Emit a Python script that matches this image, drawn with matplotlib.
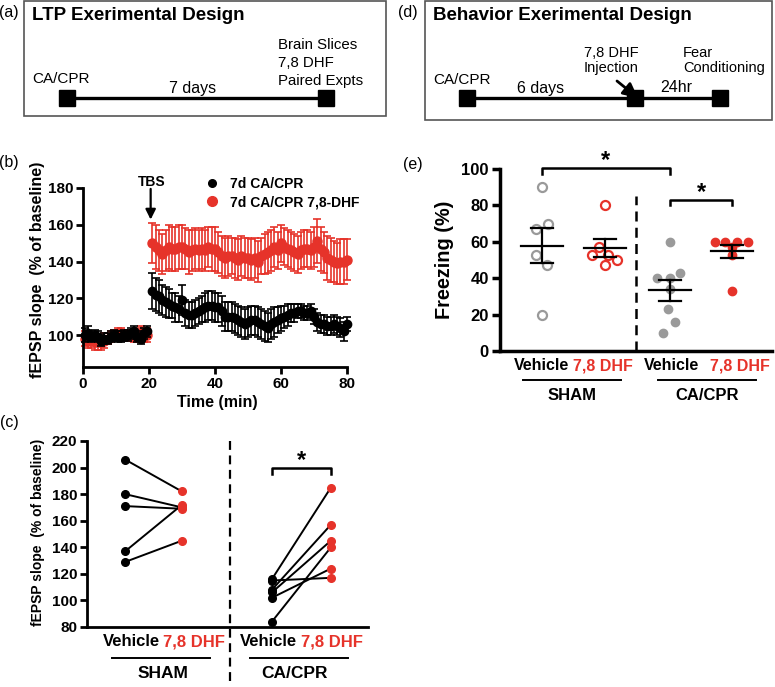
import numpy as np
import matplotlib
matplotlib.use('Agg')
import matplotlib.pyplot as plt
from matplotlib.patches import Rectangle
from matplotlib.lines import Line2D
from matplotlib.transforms import blended_transform_factory

plt.rcParams['font.family'] = ['Liberation Sans', 'DejaVu Sans']
plt.rcParams['font.weight'] = 'bold'

W, H = 775, 687
RED = '#E6332A'
GRAY = '#9a9a9a'

# ---------------- data ----------------
# Panel (b): time course
base_time = [t + 0.5 for t in range(20)]
base_ctrl = [100, 101, 99, 100, 99, 97, 98, 98, 99, 100, 99, 99, 100, 100, 101, 102, 99, 98, 101, 102]
base_ctrl_err = [4, 4, 3, 3, 3, 3, 3, 3, 3, 3, 3, 3, 3, 3, 3, 3, 3, 3, 3, 3]
base_dhf = [98, 97, 97, 96, 96, 96, 97, 98, 99, 100, 101, 101, 100, 100, 100, 99, 100, 101, 100, 100]
base_dhf_err = [4, 4, 4, 4, 4, 4, 4, 3, 3, 3, 3, 3, 3, 3, 3, 3, 4, 4, 4, 4]

post_time = list(range(21, 81))
post_ctrl = [124, 122, 121, 119, 118, 117, 116, 115, 114, 119,
             112, 111, 111, 112, 113, 114, 115, 116, 116, 115,
             115, 113, 110, 110, 110, 109, 108, 107, 106, 107,
             108, 108, 107, 106, 105, 104, 106, 107, 108, 109,
             110, 111, 112, 112, 113, 113, 112, 112, 113, 110,
             107, 106, 106, 105, 105, 106, 105, 104, 102, 106]
post_ctrl_err = [10, 9, 9, 8, 8, 8, 7, 8, 7, 8,
                 7, 7, 7, 7, 7, 7, 8, 8, 8, 8,
                 8, 8, 8, 8, 8, 8, 8, 8, 8, 8,
                 8, 8, 8, 8, 8, 8, 8, 8, 7, 7,
                 6, 6, 5, 5, 4, 4, 4, 4, 4, 4,
                 5, 5, 5, 5, 5, 5, 5, 5, 5, 4]
post_dhf = [150, 148, 146, 144, 146, 148, 147, 147, 148, 148,
            147, 145, 146, 147, 146, 147, 146, 148, 147, 147,
            145, 143, 142, 143, 143, 142, 141, 143, 142, 142,
            141, 142, 140, 143, 144, 145, 146, 148, 146, 150,
            148, 147, 146, 145, 144, 146, 147, 147, 146, 148,
            151, 147, 145, 142, 141, 140, 139, 140, 140, 141]
post_dhf_err = [11, 12, 11, 11, 11, 12, 12, 12, 12, 12,
                11, 12, 11, 11, 11, 11, 11, 11, 12, 12,
                11, 11, 11, 11, 10, 11, 11, 11, 11, 11,
                11, 11, 11, 10, 11, 11, 11, 11, 10, 10,
                10, 10, 10, 10, 10, 10, 10, 10, 10, 11,
                12, 12, 11, 12, 12, 11, 11, 12, 12, 11]
legend_labels = ['7d CA/CPR', '7d CA/CPR 7,8-DHF']

# Panel (c): paired LTP
cond_labels = ['Vehicle', '7,8 DHF', 'Vehicle', '7,8 DHF']
group_labels = ['SHAM', 'CA/CPR']
c_sham_vehicle = [206, 180, 171, 137, 129]
c_sham_dhf = [182, 170, 169, 172, 145]
c_cpr_vehicle = [116, 115, 108, 106, 102, 84]
c_cpr_dhf = [185, 117, 157, 145, 124, 140]

# Panel (e): freezing
e_sham_vehicle = [90, 70, 67, 53, 47, 20]
e_sham_dhf = [80, 57, 53, 53, 50, 47]
e_cpr_vehicle = [60, 43, 40, 40, 34, 23, 16, 10]
e_cpr_dhf = [60, 60, 60, 60, 57, 53, 33]

# ---------------- layout helpers ----------------
fig = plt.figure(figsize=(W / 100, H / 100), dpi=100)
ov = fig.add_axes([0, 0, 1, 1], zorder=5)
ov.set_xlim(0, W)
ov.set_ylim(H, 0)
ov.axis('off')
ov.patch.set_visible(False)


def rect(l, t, r, b):
    return [l / W, 1 - b / H, (r - l) / W, (b - t) / H]


def T(x, y, s, size=10, weight='normal', ha='center', va='center', color='black', **kw):
    ov.text(x, y, s, fontsize=size, fontweight=weight, ha=ha, va=va, color=color, **kw)


def style_axes(ax, lw=2, tl=5, ls=10):
    for s in ['top', 'right']:
        ax.spines[s].set_visible(False)
    for s in ['left', 'bottom']:
        ax.spines[s].set_linewidth(lw)
    ax.tick_params(width=lw, length=tl, labelsize=ls, pad=2)
    for lab in ax.get_xticklabels() + ax.get_yticklabels():
        lab.set_fontweight('bold')


# ---------------- panel labels ----------------
T(9, 13, '(a)', size=11.5)
T(408, 13, '(d)', size=11.5)
T(9, 162, '(b)', size=11.5)
T(9, 423, '(c)', size=11.5)
T(413, 165, '(e)', size=11.5)

# ---------------- (a) schematic ----------------
ov.add_patch(Rectangle((24, 1), 362, 115, fill=False, ec='#555555', lw=1.2))
T(32, 16, 'LTP Exerimental Design', size=13.5, weight='bold', ha='left')
ov.plot([67, 326], [98, 98], color='black', lw=2.4, solid_capstyle='butt')
ov.plot([67, 326], [98, 98], 's', color='black', ms=12, ls='none')
T(32, 79, 'CA/CPR', size=11, ha='left')
T(193, 88, '7 days', size=11.5)
T(278, 45, 'Brain Slices', size=10.8, ha='left')
T(278, 63, '7,8 DHF', size=10.8, ha='left')
T(278, 81, 'Paired Expts', size=10.8, ha='left')

# ---------------- (d) schematic ----------------
ov.add_patch(Rectangle((425, 1), 347, 119, fill=False, ec='#555555', lw=1.2))
T(433, 16, 'Behavior Exerimental Design', size=13.5, weight='bold', ha='left')
ov.plot([467, 720], [98, 98], color='black', lw=2.4, solid_capstyle='butt')
ov.plot([467, 635, 720], [98, 98, 98], 's', color='black', ms=12, ls='none')
T(433, 80, 'CA/CPR', size=11, ha='left')
T(541, 88, '6 days', size=11.5)
T(611, 53, '7,8 DHF', size=10.5)
T(611, 68, 'Injection', size=10.5)
T(676, 88, '24hr', size=11.5)
T(683, 53, 'Fear', size=10.5, ha='left')
T(683, 68, 'Conditioning', size=10.5, ha='left')
ov.annotate('', xy=(638, 98), xytext=(617, 81),
            arrowprops=dict(arrowstyle='-|>', color='black', lw=2.0, mutation_scale=22,
                            shrinkA=0, shrinkB=0))

# ---------------- (b) time course ----------------
axb = fig.add_axes(rect(83, 188, 347, 367))
axb.set_xlim(0, 80)
axb.set_ylim(82.6, 180)
axb.set_xticks([0, 20, 40, 60, 80])
axb.set_yticks([100, 120, 140, 160, 180])
style_axes(axb, lw=2, tl=5, ls=11)

series = [
    (base_time, base_dhf, base_dhf_err, RED, 6.5, 2),
    (post_time, post_dhf, post_dhf_err, RED, 6.5, 2),
    (base_time, base_ctrl, base_ctrl_err, 'black', 6, 3),
    (post_time, post_ctrl, post_ctrl_err, 'black', 6, 3),
]
for t, v, e, col, ms, z in series:
    cont = axb.errorbar(t, v, yerr=e, fmt='o', color=col, ms=ms, capsize=3,
                        elinewidth=1.2, capthick=1.2, zorder=z)
    for art in cont.get_children():
        art.set_clip_on(False)

axb.annotate('', xy=(20.5, 162.8), xytext=(20.5, 179.5), annotation_clip=False,
             arrowprops=dict(arrowstyle='-|>', color='black', lw=1.6, mutation_scale=15,
                             shrinkA=0, shrinkB=0))
T(152, 182, 'TBS', size=10, weight='bold')

handles = [Line2D([], [], marker='o', ls='none', color='black', ms=5.5),
           Line2D([], [], marker='o', ls='none', color=RED, ms=7)]
leg = axb.legend(handles, legend_labels, loc='upper left',
                 bbox_to_anchor=(205 / W, 1 - 177 / H), bbox_transform=fig.transFigure,
                 frameon=False, borderpad=0, borderaxespad=0, handlelength=1.0,
                 handletextpad=0.8, labelspacing=0.3,
                 prop={'size': 10, 'weight': 'bold'})

T(38, 270, 'fEPSP slope  (% of baseline)', size=11.5, weight='bold', rotation=90)
T(217, 403, 'Time (min)', size=11.5, weight='bold')

# ---------------- (c) paired LTP ----------------
axc = fig.add_axes(rect(87, 441, 368, 627))
axc.set_xlim(0, 5)
axc.set_ylim(80, 220)
axc.set_yticks(list(range(80, 221, 20)))
axc.set_xticks([])
style_axes(axc, lw=2, tl=5, ls=11)

c_x = [0.68, 1.69, 3.29, 4.34]
c_dash = 2.545
for (xa, xb, va_, vb_) in [(c_x[0], c_x[1], c_sham_vehicle, c_sham_dhf),
                           (c_x[2], c_x[3], c_cpr_vehicle, c_cpr_dhf)]:
    for a, b in zip(va_, vb_):
        axc.plot([xa, xb], [a, b], color='black', lw=1.4, zorder=2, clip_on=False)
    axc.plot([xa] * len(va_), va_, 'o', color='black', ms=5.5, zorder=3, clip_on=False)
    axc.plot([xb] * len(vb_), vb_, 'o', color=RED, ms=5.5, zorder=3, clip_on=False)

trc = blended_transform_factory(axc.transData, axc.transAxes)
axc.plot([c_dash, c_dash], [1.0, -0.30], transform=trc, clip_on=False,
         color='black', lw=1.6, ls=(0, (4, 2.5)))
axc.plot([c_x[2], c_x[2], c_x[3], c_x[3]], [195.5, 200, 200, 195.5], color='black', lw=1.8,
         clip_on=False)
axc.text((c_x[2] + c_x[3]) / 2, 205, '*', fontsize=17, fontweight='bold', ha='center', va='center')

T(38, 532, 'fEPSP slope  (% of baseline)', size=10, weight='bold', rotation=90)
c_lab_x = [131, 194, 268, 332]
for lx, lab, col in zip(c_lab_x, cond_labels, ['black', RED, 'black', RED]):
    T(lx, 642, lab, size=12, weight='bold', color=col)
ov.plot([112, 210], [658, 658], color='black', lw=1.4)
ov.plot([250, 348], [658, 658], color='black', lw=1.4)
T(163, 673, group_labels[0], size=12.5, weight='bold')
T(295, 673, group_labels[1], size=12.5, weight='bold')

# ---------------- (e) freezing ----------------
axe = fig.add_axes(rect(500, 169, 772, 351))
axe.set_xlim(0, 5)
axe.set_ylim(0, 100)
axe.set_yticks(list(range(0, 101, 20)))
axe.set_xticks([])
style_axes(axe, lw=2.5, tl=6, ls=12)

pxu = 272 / 5.0
e_x = [0.772, 1.93, 3.125, 4.265]
e_dash = 2.5
e_off = [
    [0, 6, -6, -6, 5, 0],
    [0, -6, -13, 3, 12, 0],
    [0, 10, -13, 0, 0, -2, 5, -7],
    [-17, -7, 5, 16, 0, 0, 0],
]
e_sets = [e_sham_vehicle, e_sham_dhf, e_cpr_vehicle, e_cpr_dhf]
e_cols = [GRAY, RED, GRAY, RED]
e_filled = [False, False, True, True]
for x0, vals, offs, col, filled in zip(e_x, e_sets, e_off, e_cols, e_filled):
    xs = [x0 + o / pxu for o in offs]
    if filled:
        axe.plot(xs, vals, 'o', color=col, ms=6, ls='none', zorder=2, clip_on=False)
    else:
        axe.plot(xs, vals, 'o', mfc='none', mec=col, mew=1.6, ms=6.5, ls='none',
                 zorder=2, clip_on=False)
    m = np.mean(vals)
    sem = np.std(vals, ddof=1) / np.sqrt(len(vals))
    hw, cw = 21 / pxu, 11 / pxu
    axe.plot([x0 - hw, x0 + hw], [m, m], color='black', lw=1.6, zorder=3)
    axe.plot([x0, x0], [m - sem, m + sem], color='black', lw=1.6, zorder=3)
    axe.plot([x0 - cw, x0 + cw], [m + sem, m + sem], color='black', lw=1.6, zorder=3)
    axe.plot([x0 - cw, x0 + cw], [m - sem, m - sem], color='black', lw=1.6, zorder=3)

axe.plot([e_dash, e_dash], [0, 85], color='black', lw=1.8, ls=(0, (4, 2.5)))
axe.plot([e_x[0], e_x[0], e_x[2], e_x[2]], [97.5, 100.5, 100.5, 97.5], color='black',
         lw=1.8, clip_on=False)
axe.text((e_x[0] + e_x[2]) / 2, 104.5, '*', fontsize=17, fontweight='bold', ha='center',
         va='center', clip_on=False)
axe.plot([e_x[2], e_x[2], e_x[3], e_x[3]], [80, 83, 83, 80], color='black', lw=1.8)
axe.text((e_x[2] + e_x[3]) / 2, 87, '*', fontsize=17, fontweight='bold', ha='center',
         va='center')

T(445, 260, 'Freezing (%)', size=14.3, weight='bold', rotation=90)
e_lab_x = [542, 603, 672, 740]
for lx, lab, col in zip(e_lab_x, cond_labels, ['black', RED, 'black', RED]):
    T(lx, 366, lab, size=11.5, weight='bold', color=col)
ov.plot([523, 621], [380, 380], color='black', lw=1.4)
ov.plot([658, 756], [380, 380], color='black', lw=1.4)
T(572, 395, group_labels[0], size=12, weight='bold')
T(707, 395, group_labels[1], size=12, weight='bold')

fig.savefig('out.png', dpi=100)
